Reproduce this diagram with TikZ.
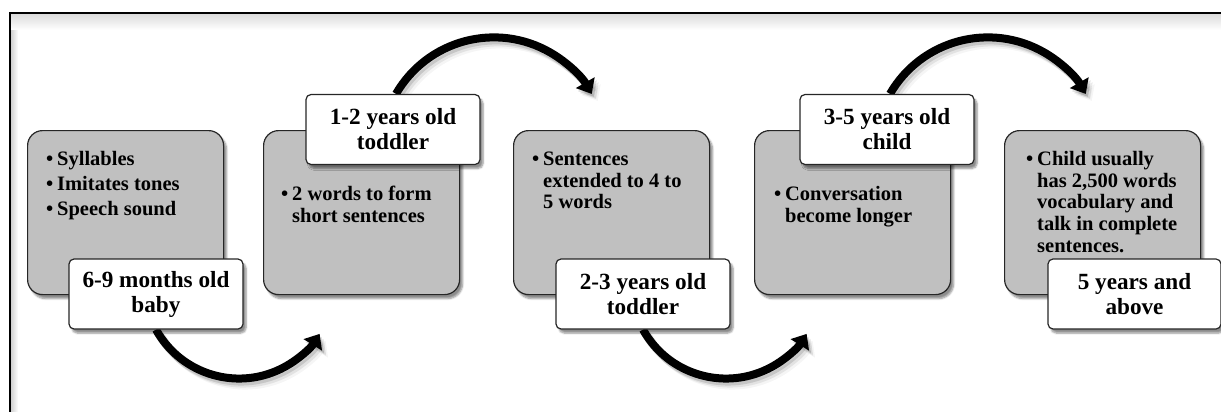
\documentclass[tikz,border=0pt]{standalone}
\usepackage{fontspec}
\setmainfont{Liberation Serif}
\usetikzlibrary{arrows.meta,shadows.blur}
\definecolor{boxgray}{RGB}{192,192,192}
\pgfdeclarelayer{bg}
\pgfsetlayers{bg,main}
\newenvironment{bulletlist}{\begin{tabular}{@{}p{11pt}@{}l@{}}}{\end{tabular}}
\begin{document}
\begin{tikzpicture}[x=1pt,y=-1pt,
  stage/.style={draw=black!85, line width=1.2pt, fill=boxgray, rounded corners=15pt,
    minimum width=196pt, minimum height=164pt, anchor=north west, inner sep=0pt,
    blur shadow={shadow xshift=3pt, shadow yshift=-4pt, shadow blur steps=6, shadow opacity=45}},
  agelabel/.style={draw=black!85, line width=1.2pt, fill=white, rounded corners=5pt,
    minimum width=174pt, minimum height=70pt, inner sep=0pt, align=center,
    font=\fontsize{23.2}{25}\selectfont\bfseries,
    blur shadow={shadow xshift=3pt, shadow yshift=-4pt, shadow blur steps=6, shadow opacity=45}},
  bodytext/.style={anchor=north west, inner sep=0pt,
    font=\fontsize{20.5}{21.7}\selectfont\bfseries},
  flow/.style={line width=8pt, draw=black, -{Triangle[length=13pt,width=21pt]}},
  flowshadow/.style={flow, draw=black, opacity=#1}
]
\useasboundingbox (0,0) rectangle (1221,412);
\clip (0,0) rectangle (1221,412);

% frame with inner shadow
\shade[left color=black!18, right color=white] (11,14) rectangle (18,412);
\shade[top color=black!14, bottom color=white] (11,14) rectangle (1221,30);
\draw[line width=2pt] (10,430) -- (10,13) -- (1240,13) -- (1240,430);

% stage boxes
\node[stage] (b1) at (27,130) {};
\node[stage] (b2) at (263,130) {};
\node[stage] (b3) at (513,130) {};
\node[stage] (b4) at (754,130) {};
\node[stage] (b5) at (1004,130) {};

% body texts
\node[bodytext] (t1) at ([shift={(19,20)}]b1.north west)
  {\begin{bulletlist}\textbullet & Syllables\\[3.3pt]\textbullet & Imitates tones\\[3.3pt]\textbullet & Speech sound\end{bulletlist}};
\node[bodytext] (t2) at ([shift={(18,55)}]b2.north west)
  {\begin{bulletlist}\textbullet & 2 words to form\\ & short sentences\end{bulletlist}};
\node[bodytext] (t3) at ([shift={(19,20)}]b3.north west)
  {\begin{bulletlist}\textbullet & Sentences\\ & extended to 4 to\\ & 5 words\end{bulletlist}};
\node[bodytext] (t4) at ([shift={(20,55)}]b4.north west)
  {\begin{bulletlist}\textbullet & Conversation\\ & become longer\end{bulletlist}};
\node[bodytext] (t5) at ([shift={(22,20)}]b5.north west)
  {\begin{bulletlist}\textbullet & Child usually\\ & has 2,500 words\\ & vocabulary and\\ & talk in complete\\ & sentences.\end{bulletlist}};

% age labels
\node[agelabel] (L1) at (156,294) {6-9 months old\\baby};
\node[agelabel] (L2) at (393,129.5) {1-2 years old\\toddler};
\node[agelabel] (L3) at (643,294) {2-3 years old\\toddler};
\node[agelabel] (L4) at (887,129.5) {3-5 years old\\child};
\node[agelabel, minimum width=173pt] (L5) at (1134.5,294) {5 years and\\above};

% arrows
\begin{pgfonlayer}{bg}
  \foreach \dx/\dy/\op in {2/-3/0.12, 4/-5/0.08, 6/-7/0.04}{
    \begin{scope}[transform canvas={shift={(\dx pt,\dy pt)}}]
      \draw[flowshadow=\op] (L1.south) arc[start angle=209, end angle=328, radius=95pt];
      \draw[flowshadow=\op] ([xshift=3pt]L2.north) arc[start angle=150, end angle=30, radius=113pt];
      \draw[flowshadow=\op] (L3.south) arc[start angle=209, end angle=328, radius=95pt];
      \draw[flowshadow=\op] ([xshift=3pt]L4.north) arc[start angle=150, end angle=30, radius=113pt];
    \end{scope}
  }
  \draw[flow] (L1.south) arc[start angle=209, end angle=328, radius=95pt];
  \draw[flow] ([xshift=3pt]L2.north) arc[start angle=150, end angle=30, radius=113pt];
  \draw[flow] (L3.south) arc[start angle=209, end angle=328, radius=95pt];
  \draw[flow] ([xshift=3pt]L4.north) arc[start angle=150, end angle=30, radius=113pt];
\end{pgfonlayer}
\end{tikzpicture}
\end{document}
